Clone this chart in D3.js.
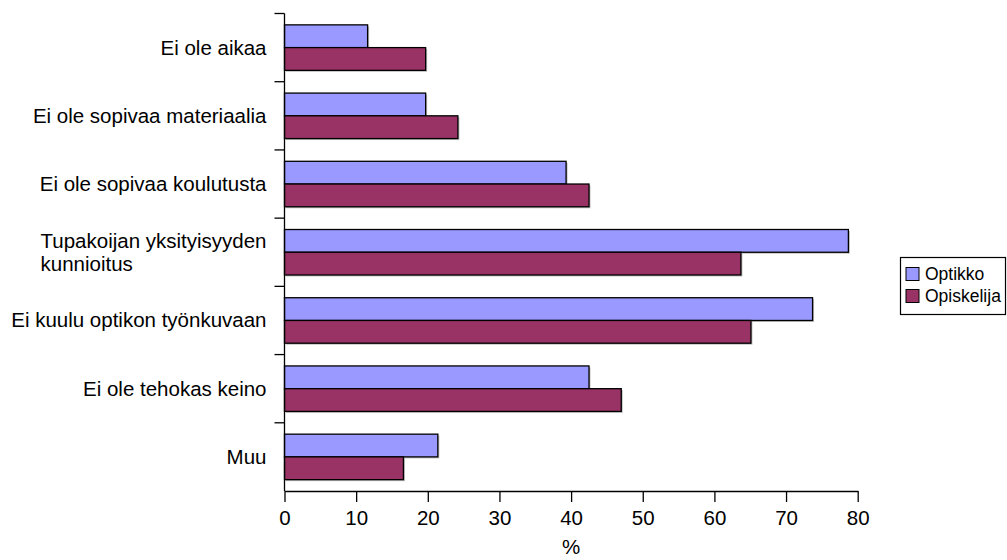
<!DOCTYPE html>
<html>
<head>
<meta charset="utf-8">
<script src="https://cdn.jsdelivr.net/npm/d3@7"></script>
<style>
  body { margin: 0; background: #fff; }
  svg { display: block; font-family: "Liberation Sans", Arial, Helvetica, sans-serif; }
</style>
</head>
<body>
<svg id="chart" width="1007" height="560"></svg>
<script>
// Reasons given (percent of respondents), two respondent groups
const categories = [
  "Ei ole aikaa",
  "Ei ole sopivaa materiaalia",
  "Ei ole sopivaa koulutusta",
  "Tupakoijan yksityisyyden\nkunnioitus",
  "Ei kuulu optikon työnkuvaan",
  "Ei ole tehokas keino",
  "Muu"
];
const seriesNames = ["Optikko", "Opiskelija"];
const optikko    = [11.6, 19.7, 39.3, 78.7, 73.7, 42.5, 21.4];
const opiskelija = [19.7, 24.2, 42.5, 63.7, 65.1, 47.0, 16.6];
const xTicks = [0, 10, 20, 30, 40, 50, 60, 70, 80];
const axisTitle = "%";

const colors = ["#9999FF", "#993366"];
const seriesValues = [optikko, opiskelija];

const svg = d3.select("#chart");
const plot = { left: 284.5, right: 857.7, top: 13.5, bottom: 491 };

const x = d3.scaleLinear().domain([0, 80]).range([plot.left, plot.right]);
const y = d3.scaleBand().domain(d3.range(categories.length))
  .range([plot.top, plot.bottom]).paddingInner(0).paddingOuter(0);
// two bars per category, one bar-width of space split around the pair
const ySeries = d3.scaleBand().domain(d3.range(seriesNames.length))
  .range([0, y.bandwidth()]).paddingInner(0).paddingOuter(0.5);

const rows = categories.map((c, i) => ({ i, values: seriesValues.map(s => s[i]) }));

// bar shadows
const shadow = svg.append("g").attr("fill", "#8c8c8c").attr("opacity", 0.55);
rows.forEach(r => r.values.forEach((v, k) => {
  shadow.append("rect")
    .attr("x", x(0) + 1.5)
    .attr("y", y(r.i) + ySeries(k) + 1.5)
    .attr("width", x(v) - x(0))
    .attr("height", ySeries.bandwidth());
}));

// bars
const bars = svg.append("g");
rows.forEach(r => r.values.forEach((v, k) => {
  bars.append("rect")
    .attr("x", x(0))
    .attr("y", y(r.i) + ySeries(k))
    .attr("width", x(v) - x(0))
    .attr("height", ySeries.bandwidth())
    .attr("fill", colors[k])
    .attr("stroke", "#000")
    .attr("stroke-width", 1.3);
}));

// x axis
const xAxis = d3.axisBottom(x).tickValues(xTicks).tickSize(11).tickSizeOuter(0).tickPadding(8);
const gx = svg.append("g").attr("transform", `translate(0,${plot.bottom})`).call(xAxis);
gx.select(".domain").attr("stroke", "#000").attr("stroke-width", 1.3);
gx.selectAll(".tick line").attr("stroke", "#000").attr("stroke-width", 1.3);
gx.selectAll(".tick text").attr("font-size", 20.5).attr("fill", "#000")
  .attr("font-family", "Liberation Sans, Arial, sans-serif");

svg.append("text")
  .attr("x", (plot.left + plot.right) / 2)
  .attr("y", 554)
  .attr("text-anchor", "middle")
  .attr("font-size", 20.5)
  .text(axisTitle);

// y axis line and category boundary ticks
const gy = svg.append("g").attr("stroke", "#000").attr("stroke-width", 1.3);
gy.append("line").attr("x1", plot.left).attr("x2", plot.left)
  .attr("y1", plot.top).attr("y2", plot.bottom);
d3.range(categories.length).forEach(i => {
  const yy = y(i);
  gy.append("line").attr("x1", plot.left - 10).attr("x2", plot.left)
    .attr("y1", yy).attr("y2", yy);
});

// category labels; wrapped labels keep their lines left-aligned
const labelRight = 266.5;
const lineHeight = 22.5;
categories.forEach((c, i) => {
  const lines = c.split("\n");
  const cy = y(i) + y.bandwidth() / 2;
  const t = svg.append("text").attr("font-size", 20.5).attr("fill", "#000");
  lines.forEach((ln, j) => {
    t.append("tspan")
      .attr("y", cy + (j - (lines.length - 1) / 2) * lineHeight + 7)
      .text(ln);
  });
  if (lines.length === 1) {
    t.attr("text-anchor", "end").selectAll("tspan").attr("x", labelRight);
  } else {
    let w = 0;
    t.selectAll("tspan").each(function () { w = Math.max(w, this.getComputedTextLength()); });
    t.attr("text-anchor", "start").selectAll("tspan").attr("x", labelRight - w);
  }
});

// legend
const legend = svg.append("g");
legend.append("rect").attr("x", 900.5).attr("y", 257.5).attr("width", 105).attr("height", 57)
  .attr("fill", "#fff").attr("stroke", "#000").attr("stroke-width", 1.2);
seriesNames.forEach((name, k) => {
  const ly = 274 + k * 22;
  legend.append("rect").attr("x", 906).attr("y", ly - 6.5).attr("width", 13).attr("height", 13)
    .attr("fill", colors[k]).attr("stroke", "#000").attr("stroke-width", 1);
  legend.append("text").attr("x", 925).attr("y", ly + 6).attr("font-size", 17.5).attr("fill", "#000")
    .text(name);
});
</script>
</body>
</html>
